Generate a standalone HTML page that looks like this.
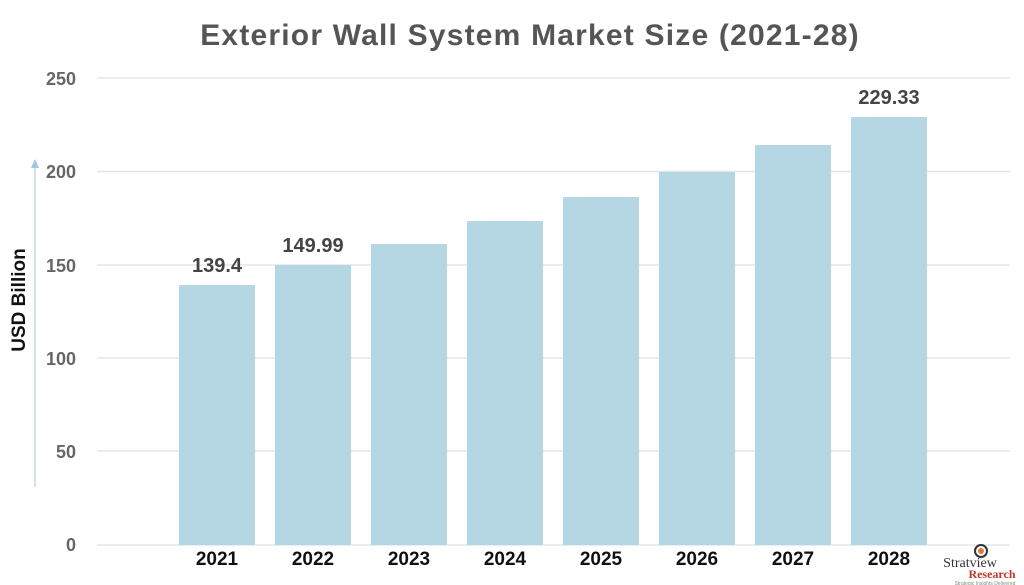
<!DOCTYPE html>
<html><head><meta charset="utf-8"><style>
html,body{margin:0;padding:0;background:#fff;}
svg{display:block;font-family:"Liberation Sans",sans-serif;}
</style></head><body>
<svg width="1024" height="585" viewBox="0 0 1024 585">
<text x="530" y="45" text-anchor="middle" font-size="30" font-weight="bold" fill="#555" letter-spacing="1.2">Exterior Wall System Market Size (2021-28)</text>
<g stroke="#e3e6e8" stroke-width="1.5">
<line x1="97" x2="1010" y1="78" y2="78"/>
<line x1="97" x2="1010" y1="171.5" y2="171.5"/>
<line x1="97" x2="1010" y1="265" y2="265"/>
<line x1="97" x2="1010" y1="358" y2="358"/>
<line x1="97" x2="1010" y1="451" y2="451"/>
<line x1="97" x2="1010" y1="545" y2="545"/>
</g>
<g font-size="18" font-weight="bold" fill="#666" text-anchor="end">
<text x="76" y="85">250</text><text x="76" y="178">200</text><text x="76" y="272">150</text>
<text x="76" y="365">100</text><text x="76" y="458">50</text><text x="76" y="551">0</text>
</g>
<line x1="35" y1="166" x2="35" y2="487" stroke="#cfe4ee" stroke-width="2"/>
<polygon points="31,168 39,168 35,159" fill="#9cc9dc"/>
<text transform="translate(25,300) rotate(-90)" text-anchor="middle" font-size="19" font-weight="bold" fill="#111">USD Billion</text>
<g fill="#b5d6e3">
<rect x="179" y="285" width="76" height="260"/>
<rect x="275" y="265" width="76" height="280"/>
<rect x="371" y="244" width="76" height="301"/>
<rect x="467" y="221" width="76" height="324"/>
<rect x="563" y="197" width="76" height="348"/>
<rect x="659" y="172" width="76" height="373"/>
<rect x="755" y="145" width="76" height="400"/>
<rect x="851" y="117" width="76" height="428"/>
</g>
<g font-size="20" font-weight="bold" fill="#444" text-anchor="middle">
<text x="217" y="272">139.4</text><text x="313" y="252">149.99</text><text x="889" y="104">229.33</text>
</g>
<g font-size="19" font-weight="bold" fill="#111" text-anchor="middle">
<text x="217" y="565">2021</text><text x="313" y="565">2022</text><text x="409" y="565">2023</text><text x="505" y="565">2024</text>
<text x="601" y="565">2025</text><text x="697" y="565">2026</text><text x="793" y="565">2027</text><text x="889" y="565">2028</text>
</g>
<circle cx="981" cy="551" r="6" fill="none" stroke="#333" stroke-width="2"/>
<circle cx="981" cy="551" r="3" fill="#e07a3a"/>
<text x="970" y="567" text-anchor="middle" font-family="Liberation Serif,serif" font-size="14" fill="#333">Stratview</text>
<text x="992" y="578" text-anchor="middle" font-family="Liberation Serif,serif" font-size="12" font-weight="bold" fill="#c0392b">Research</text>
<text x="985" y="585" text-anchor="middle" font-size="5" fill="#888">Strategic Insights Delivered</text>
</svg>
</body></html>
